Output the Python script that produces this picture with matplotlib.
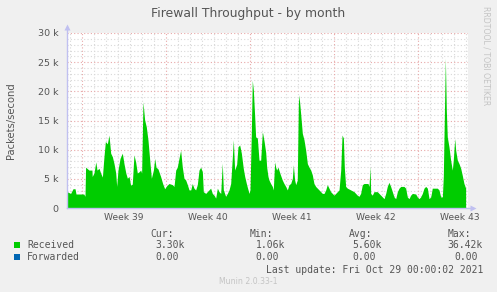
import matplotlib.pyplot as plt
import numpy as np

# received packets/second (in k), sampled by day since the left edge of the graph
days = [0.0, 0.3, 0.5, 0.67, 0.75, 1.4, 1.5, 1.55, 1.83, 2.08, 2.1, 2.25, 2.4, 2.5, 2.67, 2.8, 2.95,
        3.08, 3.2, 3.36, 3.5, 3.64, 3.78, 3.92, 4.06, 4.14, 4.25, 4.42, 4.61, 4.75, 4.9, 5.03, 5.17,
        5.3, 5.44, 5.58, 5.72, 5.86, 6.0, 6.14, 6.22, 6.33, 6.47, 6.61, 6.75, 6.92, 7.03, 7.2, 7.31,
        7.42, 7.58, 7.8, 7.97, 8.14, 8.3, 8.5, 8.78, 8.92, 9.06, 9.19, 9.33, 9.47, 9.61, 9.75, 9.89,
        10.03, 10.17, 10.31, 10.44, 10.58, 10.72, 10.86, 11.0, 11.14, 11.28, 11.36, 11.56, 11.69,
        11.83, 11.97, 12.11, 12.25, 12.39, 12.53, 12.67, 12.81, 12.94, 13.03, 13.22, 13.36, 13.5,
        13.64, 13.78, 13.86, 13.97, 14.14, 14.25, 14.39, 14.53, 14.69, 14.81, 14.97, 15.17, 15.25,
        15.36, 15.44, 15.53, 15.64, 15.72, 15.86, 16.0, 16.14, 16.28, 16.42, 16.56, 16.64, 16.75,
        16.83, 16.97, 17.11, 17.19, 17.31, 17.39, 17.47, 17.58, 17.75, 17.94, 18.08, 18.22, 18.36,
        18.5, 18.64, 18.78, 18.86, 18.97, 19.06, 19.19, 19.28, 19.33, 19.47, 19.61, 19.75, 19.89,
        20.03, 20.17, 20.31, 20.44, 20.58, 20.72, 20.86, 21.0, 21.14, 21.28, 21.42, 21.56, 21.69,
        21.83, 21.97, 22.11, 22.25, 22.39, 22.53, 22.67, 22.81, 22.92, 23.03, 23.11, 23.22, 23.36,
        23.64, 23.92, 24.19, 24.33, 24.47, 24.61, 24.75, 25.08, 25.17, 25.25, 25.31, 25.44, 25.58,
        25.86, 26.0, 26.14, 26.28, 26.42, 26.56, 26.69, 26.83, 26.97, 27.11, 27.25, 27.39, 27.53,
        27.67, 27.81, 28.08, 28.22, 28.36, 28.5, 28.64, 28.78, 29.06, 29.19, 29.33, 29.47, 29.61,
        29.75, 29.89, 30.03, 30.17, 30.31, 30.44, 30.86, 31.0, 31.14, 31.28, 31.36, 31.47, 31.53,
        31.61, 31.69, 31.83, 31.97, 32.11, 32.19, 32.31, 32.39, 32.53, 32.67, 32.81, 32.94, 33.08,
        33.22]
received = [2.8, 2.5, 3.3, 3.3, 2.4, 2.4, 2.0, 7.0, 6.5, 6.5, 5.4, 6.0, 7.9, 6.5, 6.8, 6.0, 5.3,
            8.8, 11.4, 11.0, 12.5, 9.4, 8.8, 7.6, 6.0, 3.7, 6.5, 8.5, 9.4, 7.6, 6.0, 5.1, 5.4,
            3.9, 4.1, 9.1, 7.9, 6.0, 6.2, 6.5, 6.0, 18.2, 15.1, 13.9, 11.6, 7.6, 5.1, 6.5, 8.5,
            7.0, 6.7, 5.4, 4.2, 3.3, 3.8, 4.2, 4.0, 3.7, 6.5, 7.0, 8.5, 9.9, 7.0, 5.1, 4.8,
            4.0, 3.1, 3.1, 4.2, 3.4, 3.1, 4.0, 6.5, 7.0, 6.2, 2.8, 2.5, 2.8,
            3.1, 3.4, 2.5, 2.2, 1.7, 3.4, 2.8, 2.5, 7.7, 3.1, 2.0, 2.5, 3.1,
            4.2, 8.8, 11.7, 6.5, 7.5, 10.5, 10.8, 9.4, 6.8, 5.4, 4.0, 2.5, 3.1,
            12.8, 21.9, 20.2, 15.7, 12.2, 12.0, 8.2, 8.2, 13.1, 11.5, 9.5, 7.0, 5.4,
            4.8, 4.2, 3.7, 3.1, 7.9, 7.0, 6.5, 7.0, 5.9, 4.8, 4.2, 3.7, 3.1,
            4.0, 4.2, 5.1, 7.4, 4.8, 4.0, 4.8, 17.9, 19.4, 16.2, 12.8, 11.7, 9.9,
            7.6, 7.0, 6.5, 5.7, 4.2, 3.7, 3.4, 3.1, 2.8, 2.5, 2.5, 3.1, 4.0,
            3.4, 2.8, 2.5, 2.2, 2.5, 2.8, 3.1, 6.5, 12.5, 12.0, 7.0, 3.7, 3.4,
            3.1, 2.8, 2.2, 2.0, 2.5, 4.0, 4.2, 4.2, 3.7, 7.1, 2.5, 2.2, 2.8,
            2.8, 2.5, 2.2, 1.9, 1.6, 2.5, 3.7, 4.4, 3.7, 2.8, 1.9, 1.6, 2.8,
            3.4, 3.7, 3.7, 3.4, 1.9, 1.6, 2.2, 2.5, 2.4, 1.9, 1.6, 1.9, 2.5,
            3.4, 3.7, 3.4, 1.6, 1.9, 3.4, 3.4, 3.1, 1.9, 1.9, 5.4, 18.5, 25.7,
            16.8, 12.2, 10.5, 8.2, 6.5, 8.2, 11.9, 9.9, 8.2, 7.6, 6.8, 5.6, 4.2,
            3.4]

week_starts = [1.25, 8.25, 15.25, 22.25, 29.25]
week_labels = ['Week 39', 'Week 40', 'Week 41', 'Week 42', 'Week 43']
y_ticks = [0, 5, 10, 15, 20, 25, 30]
y_labels = ['0', '5 k', '10 k', '15 k', '20 k', '25 k', '30 k']

# legend table
series_names = ['Received', 'Forwarded']
series_colors = ['#00CC00', '#0066B3']
col_heads = ['Cur:', 'Min:', 'Avg:', 'Max:']
received_stats = ['3.30k', '1.06k', '5.60k', '36.42k']
forwarded_stats = ['0.00', '0.00', '0.00', '0.00']

W, H = 497, 292
fig = plt.figure(figsize=(W / 100, H / 100), dpi=100, facecolor='#F0F0F0')

def fx(px):
    return px / W

def fy(py):
    return 1 - py / H

# plot area in pixels: left 67, right 468, top 33, bottom 208
ax = fig.add_axes([fx(67), fy(208), (468 - 67) / W, (208 - 33) / H])
ax.set_facecolor('white')
x_end = (468 - 67) / 12.0
ax.set_xlim(0, x_end)
ax.set_ylim(0, 30)

# grid: minor dotted grey, major dotted red
for d in np.arange(0.25, x_end, 1.0):
    if min(abs(d - w) for w in week_starts) > 0.01:
        ax.axvline(d, color='#D8D8D8', lw=0.8, ls=(0, (1, 2)), zorder=0)
for v in range(1, 31):
    if v % 5:
        ax.axhline(v, color='#D8D8D8', lw=0.8, ls=(0, (1, 2)), zorder=0)
for w in week_starts:
    ax.axvline(w, color='#E8A8A8', lw=0.8, ls=(0, (1, 2)), zorder=0)
for v in y_ticks[1:]:
    ax.axhline(v, color='#E8A8A8', lw=0.8, ls=(0, (1, 2)), zorder=0)

ax.fill_between(days, received, 0, color=series_colors[0], lw=0, zorder=2)

for s in ax.spines.values():
    s.set_visible(False)
axis_col = '#C0C0F0'
ax.plot([0, 0], [0, 1.035], color=axis_col, lw=1, transform=ax.transAxes, clip_on=False, zorder=3)
ax.plot([0, 1.013], [0, 0], color=axis_col, lw=1, transform=ax.transAxes, clip_on=False, zorder=3)
ax.plot([0], [1.035], marker='^', ms=4, color=axis_col, mec='none', transform=ax.transAxes, clip_on=False)
ax.plot([1.013], [0], marker='>', ms=4, color=axis_col, mec='none', transform=ax.transAxes, clip_on=False)

ax.set_yticks(y_ticks)
ax.set_yticklabels(y_labels)
ax.set_xticks([])
ax.tick_params(axis='y', length=0, pad=6, labelsize=6.8, labelcolor='#555555')

text_col = '#555555'
for w, lab in zip(week_starts, week_labels):
    fig.text(fx(67 + (w + 3.5) * 12), fy(217), lab, ha='center', va='center', fontsize=6.6, color=text_col)

fig.text(fx(248), fy(14), 'Firewall Throughput - by month', ha='center', va='center', fontsize=8.9, color=text_col)
fig.text(fx(11), fy(120.5), 'Packets/second', ha='center', va='center', rotation=90, fontsize=7.2, color=text_col)
fig.text(fx(486), fy(56), 'RRDTOOL / TOBI OETIKER', ha='center', va='center', rotation=270, fontsize=5.6, color='#C4C4C4')

mono = 'DejaVu Sans Mono'
head_x = [150, 249.3, 349, 447.3]
val_x = [155.7, 255.7, 352.3, 447.3]
zero_x = [155.7, 255.7, 352.3, 454]
for hx, h in zip(head_x, col_heads):
    fig.text(fx(hx), fy(234), h, ha='left', va='center', family=mono, fontsize=7, color=text_col)

rows_y = [245.3, 257.3]
for name, col, yy in zip(series_names, series_colors, rows_y):
    fig.patches.append(plt.Rectangle((fx(14), fy(yy + 3)), 6 / W, 6 / H, transform=fig.transFigure,
                                     facecolor=col, edgecolor='none'))
    fig.text(fx(27), fy(yy), name, ha='left', va='center', family=mono, fontsize=7, color=text_col)
for vx, v in zip(val_x, received_stats):
    fig.text(fx(vx), fy(rows_y[0]), v, ha='left', va='center', family=mono, fontsize=7, color=text_col)
for vx, v in zip(zero_x, forwarded_stats):
    fig.text(fx(vx), fy(rows_y[1]), v, ha='left', va='center', family=mono, fontsize=7, color=text_col)

fig.text(fx(483.5), fy(270), 'Last update: Fri Oct 29 00:00:02 2021', ha='right', va='center',
         family=mono, fontsize=7, color=text_col)
fig.text(fx(248.5), fy(281), 'Munin 2.0.33-1', ha='center', va='center', fontsize=5.6, color='#C4C4C4')

fig.savefig('out.png', dpi=100, facecolor=fig.get_facecolor())
